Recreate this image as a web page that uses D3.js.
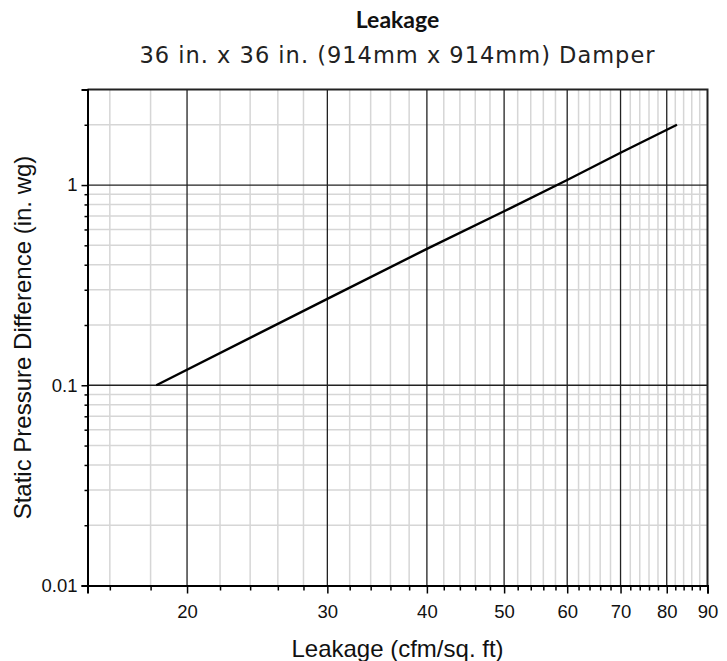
<!DOCTYPE html>
<html>
<head>
<meta charset="utf-8">
<script src="https://cdn.jsdelivr.net/npm/d3@7"></script>
<style>
  body { margin: 0; background: #fff; }
  svg { display: block; font-family: "Liberation Sans", Arial, sans-serif; }
</style>
</head>
<body>
<script>
// leakage curve
var leakage  = [18.3, 30, 40, 50, 60, 70, 82.4];
var pressure = [0.1, 0.27, 0.48, 0.74, 1.06, 1.45, 2.0];

var xMajor = [20, 30, 40, 50, 60, 70, 80, 90];
var yMajor = [0.01, 0.1, 1];
var xMinor = d3.range(16, 90, 2).filter(d => d % 10 != 0);
var yMinor = [0.02,0.03,0.04,0.05,0.06,0.07,0.08,0.09,0.2,0.3,0.4,0.5,0.6,0.7,0.8,0.9,2];

var width = 727, height = 661;
var m = {left: 87.5, right: 707.5, top: 89.5, bottom: 585.5};

var svg = d3.select('body').append('svg')
    .attr('width', width)
    .attr('height', height);

svg.append('rect').attr('width', width).attr('height', height).attr('fill', '#fff');

var x = d3.scaleLog().domain([15, 90]).range([m.left, m.right]);
var y = d3.scaleLog().domain([0.01, 3]).range([m.bottom, m.top]);

/* ---------- titles ---------- */
svg.append('text')
    .attr('x', (m.left + m.right) / 2).attr('y', 28)
    .attr('text-anchor', 'middle')
    .style('font-family', 'Lato, sans-serif')
    .style('font-size', '23px').style('font-weight', 'bold')
    .attr('fill', '#111')
    .text('Leakage');

svg.append('text')
    .attr('x', (m.left + m.right) / 2).attr('y', 63)
    .attr('text-anchor', 'middle')
    .style('font-family', '"DejaVu Sans", sans-serif')
    .style('font-size', '22.5px').style('letter-spacing', '1px')
    .attr('fill', '#222')
    .text('36 in. x 36 in. (914mm x 914mm) Damper');

/* ---------- grid ---------- */
var grid = svg.append('g');
grid.selectAll('.vmin').data(xMinor).enter().append('line')
    .attr('x1', d => x(d)).attr('x2', d => x(d))
    .attr('y1', m.top).attr('y2', m.bottom)
    .attr('stroke', '#d6d6d6').attr('stroke-width', 1.5);
grid.selectAll('.hmin').data(yMinor).enter().append('line')
    .attr('y1', d => y(d)).attr('y2', d => y(d))
    .attr('x1', m.left).attr('x2', m.right)
    .attr('stroke', '#d6d6d6').attr('stroke-width', 1.5);
grid.selectAll('.vmaj').data(xMajor.slice(0, -1)).enter().append('line')
    .attr('x1', d => x(d)).attr('x2', d => x(d))
    .attr('y1', m.top).attr('y2', m.bottom)
    .attr('stroke', '#222').attr('stroke-width', 1.3);
grid.selectAll('.hmaj').data(yMajor.slice(1)).enter().append('line')
    .attr('y1', d => y(d)).attr('y2', d => y(d))
    .attr('x1', m.left).attr('x2', m.right)
    .attr('stroke', '#222').attr('stroke-width', 1.3);

// top and right frame
svg.append('path')
    .attr('d', 'M' + m.left + ',' + m.top + 'H' + m.right + 'V' + m.bottom)
    .attr('fill', 'none').attr('stroke', '#222').attr('stroke-width', 2);

/* ---------- axes ---------- */
svg.append('g')
    .attr('transform', 'translate(0,' + m.bottom + ')')
    .call(d3.axisBottom(x).tickValues(xMajor).tickFormat(d3.format('d')).tickSize(8).tickPadding(11));
svg.append('g')
    .attr('transform', 'translate(0,' + m.bottom + ')')
    .call(d3.axisBottom(x).tickValues(xMinor).tickFormat('').tickSize(5))
    .select('.domain').remove();

svg.append('g')
    .attr('transform', 'translate(' + m.left + ',0)')
    .call(d3.axisLeft(y).tickValues(yMajor).tickFormat(d => String(d)).tickSize(6).tickPadding(4));
svg.append('g')
    .attr('transform', 'translate(' + m.left + ',0)')
    .call(d3.axisLeft(y).tickValues(yMinor).tickFormat('').tickSize(3))
    .select('.domain').remove();

svg.selectAll('.domain').attr('stroke', '#000').attr('stroke-width', 2);
svg.selectAll('.tick line').attr('stroke', '#000').attr('stroke-width', 1.5);
svg.selectAll('.tick text')
    .style('font-size', '18.5px')
    .style('font-family', '"Liberation Sans", Arial, sans-serif')
    .attr('fill', '#111');

svg.append('text')
    .attr('x', (m.left + m.right) / 2).attr('y', 657)
    .attr('text-anchor', 'middle')
    .style('font-size', '24px').attr('fill', '#111')
    .text('Leakage (cfm/sq. ft)');

svg.append('text')
    .attr('transform', 'translate(31,' + (m.top + m.bottom) / 2 + ') rotate(-90)')
    .attr('text-anchor', 'middle')
    .style('font-size', '24px').attr('fill', '#111')
    .text('Static Pressure Difference (in. wg)');

/* ---------- curve ---------- */
var pts = leakage.map((d, i) => [d, pressure[i]]);
svg.append('path')
    .datum(pts)
    .attr('fill', 'none')
    .attr('stroke', '#000')
    .attr('stroke-width', 2.4)
    .attr('d', d3.line().x(d => x(d[0])).y(d => y(d[1])));
</script>
</body>
</html>
